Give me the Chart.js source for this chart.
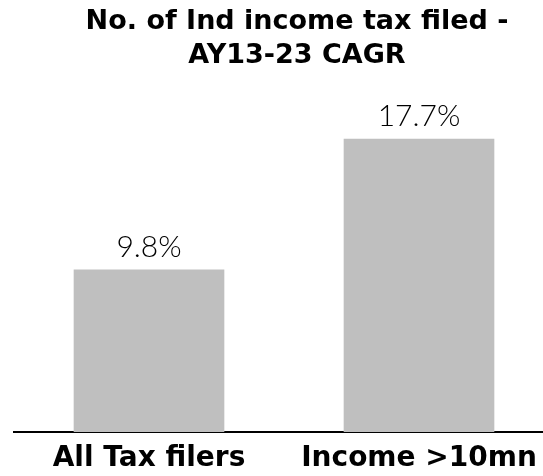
<!DOCTYPE html>
<html>
<head>
<meta charset="utf-8">
<script src="https://cdn.jsdelivr.net/npm/chart.js@4/dist/chart.umd.min.js"></script>
<style>
  html, body { margin: 0; padding: 0; background: #fff; overflow: hidden; }
  #wrap { width: 543px; height: 476px; position: relative; overflow: hidden; }
  canvas { display: block; }
</style>
</head>
<body>
<div id="wrap"><canvas id="c" width="554" height="476"></canvas></div>
<script>
const titleLines = ["No. of Ind income tax filed -", "AY13-23 CAGR"];
const categories = ["All Tax filers", "Income >10mn"];
const cagrValues = [9.8, 17.7];
const valueLabels = ["9.8%", "17.7%"];

const titlePlugin = {
  id: 'customTitle',
  afterDraw(chart) {
    const ctx = chart.ctx;
    ctx.save();
    ctx.fillStyle = '#000';
    ctx.font = 'bold 27px "DejaVu Sans"';
    ctx.textAlign = 'center';
    ctx.textBaseline = 'alphabetic';
    titleLines.forEach((t, i) => ctx.fillText(t, 297, 29 + i * 34));
    ctx.restore();
  }
};

const valueLabelPlugin = {
  id: 'valueLabels',
  afterDatasetsDraw(chart) {
    const ctx = chart.ctx;
    const meta = chart.getDatasetMeta(0);
    ctx.save();
    ctx.fillStyle = '#000';
    ctx.font = '300 30px Lato';
    ctx.textAlign = 'center';
    ctx.textBaseline = 'alphabetic';
    meta.data.forEach((bar, i) => {
      ctx.fillText(valueLabels[i], bar.x, bar.y - 13);
    });
    ctx.restore();
  }
};

new Chart(document.getElementById('c'), {
  type: 'bar',
  data: {
    labels: categories,
    datasets: [{
      data: cagrValues,
      backgroundColor: '#bfbfbf',
      borderWidth: 0,
      barThickness: 150
    }]
  },
  options: {
    responsive: false,
    animation: false,
    layout: { padding: { left: 14, right: 0, top: 101, bottom: 0 } },
    plugins: { legend: { display: false }, tooltip: { enabled: false }, title: { display: false } },
    scales: {
      x: {
        grid: { display: false, drawTicks: false },
        border: { display: true, color: '#000', width: 2 },
        afterFit: (scale) => { scale.height = 44; },
        ticks: {
          autoSkip: false,
          maxRotation: 0,
          padding: 10,
          color: '#000',
          font: { family: '"DejaVu Sans"', weight: 'bold', size: 28 }
        }
      },
      y: {
        display: false,
        min: 0,
        max: 20
      }
    }
  },
  plugins: [titlePlugin, valueLabelPlugin]
});
</script>
</body>
</html>
